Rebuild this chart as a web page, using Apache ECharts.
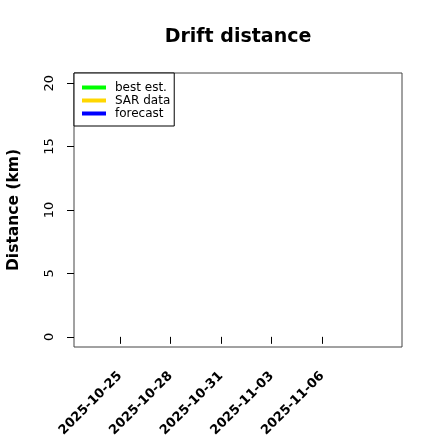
<!DOCTYPE html>
<html>
<head>
<meta charset="utf-8">
<script src="https://cdn.jsdelivr.net/npm/echarts@6/dist/echarts.min.js"></script>
<style>html,body{margin:0;padding:0;background:#fff;}#c{width:440px;height:440px;}</style>
</head>
<body>
<div id="c"></div>
<script>
// Data (all series are empty in the reference)
var seriesNames = ['best est.', 'SAR data', 'forecast'];
var seriesColors = ['#00FF00', '#FFD700', '#0000FF'];
var bestEst = [];
var sarData = [];
var forecast = [];
// Axis ranges, ticks and names
var xRange = ['2025-10-23', '2025-11-10'];
var xTickLabels = ['2025-10-25', '2025-10-28', '2025-10-31', '2025-11-03', '2025-11-06'];
var yRange = [0, 20];
var yTicks = [0, 5, 10, 15, 20];
var yName = 'Distance (km)';
var chartTitle = 'Drift distance';

function ts(s) { return Date.parse(s + 'T00:00:00Z'); }
var xTickValues = xTickLabels.map(ts);
var x0 = ts(xRange[0]), x1 = ts(xRange[1]);
var xPad = (x1 - x0) * 0.04;
var yPad = (yRange[1] - yRange[0]) * 0.04;

var font = 'DejaVu Sans';
var chart = echarts.init(document.getElementById('c'), null, {renderer: 'canvas'});
var seriesData = [bestEst, sarData, forecast];
chart.setOption({
  animation: false,
  backgroundColor: '#fff',
  title: {
    text: chartTitle,
    left: 238, top: 28, padding: 0, textAlign: 'center',
    textStyle: {fontFamily: font, fontSize: 19, fontWeight: 'bold', color: '#000'}
  },
  graphic: [{
    type: 'text', x: 13.5, y: 210, rotation: Math.PI / 2,
    style: {text: yName, fontFamily: font, fontSize: 15.5, fontWeight: 'bold', fill: '#000', align: 'center', verticalAlign: 'middle'}
  }],
  legend: {
    orient: 'vertical',
    left: 74, top: 73,
    padding: [8, 4, 6, 8],
    itemGap: 0,
    itemWidth: 24, itemHeight: 4,
    icon: 'rect',
    borderColor: '#000', borderWidth: 1,
    backgroundColor: '#fff',
    textStyle: {fontFamily: font, fontSize: 12, color: '#000', lineHeight: 13, padding: [0, 0, 0, 4]},
    data: seriesNames
  },
  grid: {left: 74, top: 73, width: 328, height: 274, show: true, borderColor: '#444', borderWidth: 1,
    backgroundColor: 'transparent'},
  xAxis: {
    type: 'value',
    min: x0 - xPad, max: x1 + xPad,
    axisLine: {show: false},
    splitLine: {show: false},
    axisTick: {show: true, length: 7, lineStyle: {color: '#000', width: 1}, customValues: xTickValues},
    axisLabel: {
      customValues: xTickValues,
      rotate: 45, margin: 27,
      fontFamily: font, fontSize: 13, fontWeight: 'bold', color: '#000',
      formatter: function (v) { var i = xTickValues.indexOf(v); return i >= 0 ? xTickLabels[i] : ''; }
    }
  },
  yAxis: {
    type: 'value',
    min: yRange[0] - yPad, max: yRange[1] + yPad,
    axisLine: {show: false},
    splitLine: {show: false},
    axisTick: {show: true, length: 7, lineStyle: {color: '#000', width: 1}, customValues: yTicks},
    axisLabel: {
      customValues: yTicks,
      rotate: 90, margin: 18,
      fontFamily: font, fontSize: 13, color: '#000'
    }
  },
  series: seriesNames.map(function (n, i) {
    return {name: n, type: 'line', data: seriesData[i], showSymbol: false,
      itemStyle: {color: seriesColors[i]}, lineStyle: {color: seriesColors[i], width: 3}};
  })
});
</script>
</body>
</html>
